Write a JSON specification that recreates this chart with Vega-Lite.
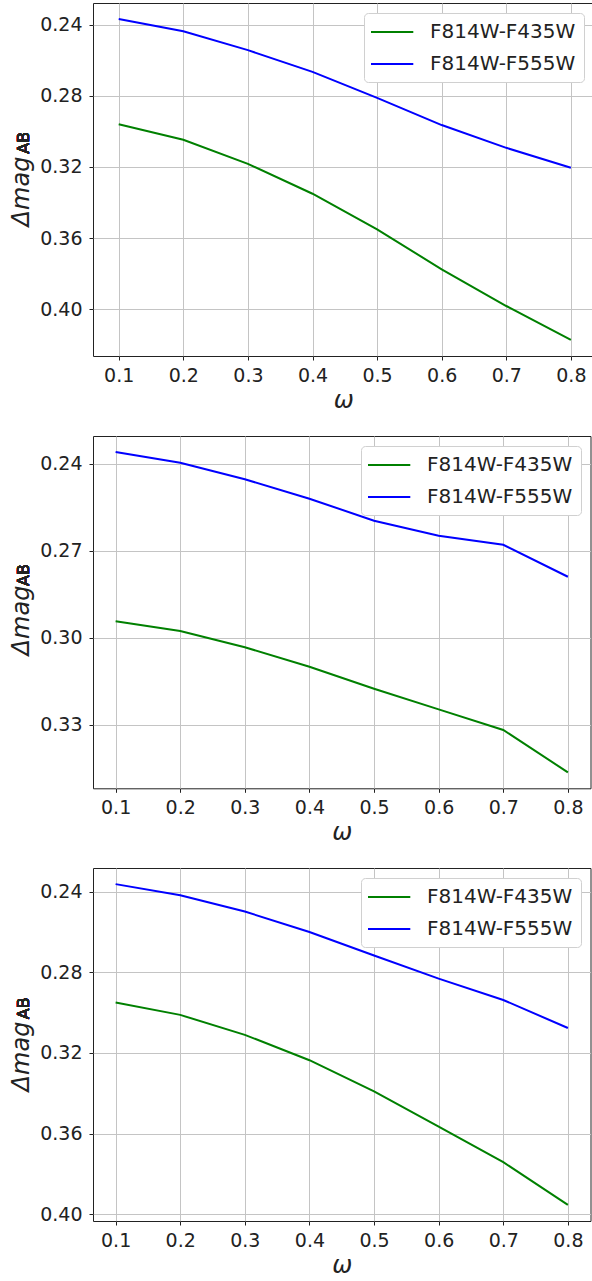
{
  "$schema": "https://vega.github.io/schema/vega-lite/v6.json",
  "padding": {"left": 9, "top": 2, "right": 0, "bottom": 0},
  "background": "white",
  "spacing": 22,
  "datasets": {
    "d1": [
      {"omega": 0.1, "series": "F814W-F435W", "mag": 0.2960},
      {"omega": 0.2, "series": "F814W-F435W", "mag": 0.3048},
      {"omega": 0.3, "series": "F814W-F435W", "mag": 0.3183},
      {"omega": 0.4, "series": "F814W-F435W", "mag": 0.3351},
      {"omega": 0.5, "series": "F814W-F435W", "mag": 0.3551},
      {"omega": 0.6, "series": "F814W-F435W", "mag": 0.3776},
      {"omega": 0.7, "series": "F814W-F435W", "mag": 0.3982},
      {"omega": 0.8, "series": "F814W-F435W", "mag": 0.4173},
      {"omega": 0.1, "series": "F814W-F555W", "mag": 0.2369},
      {"omega": 0.2, "series": "F814W-F555W", "mag": 0.2438},
      {"omega": 0.3, "series": "F814W-F555W", "mag": 0.2544},
      {"omega": 0.4, "series": "F814W-F555W", "mag": 0.2666},
      {"omega": 0.5, "series": "F814W-F555W", "mag": 0.2812},
      {"omega": 0.6, "series": "F814W-F555W", "mag": 0.2965},
      {"omega": 0.7, "series": "F814W-F555W", "mag": 0.3093},
      {"omega": 0.8, "series": "F814W-F555W", "mag": 0.3205}
    ],
    "d2": [
      {"omega": 0.1, "series": "F814W-F435W", "mag": 0.2943},
      {"omega": 0.2, "series": "F814W-F435W", "mag": 0.2977},
      {"omega": 0.3, "series": "F814W-F435W", "mag": 0.3033},
      {"omega": 0.4, "series": "F814W-F435W", "mag": 0.3100},
      {"omega": 0.5, "series": "F814W-F435W", "mag": 0.3176},
      {"omega": 0.6, "series": "F814W-F435W", "mag": 0.3247},
      {"omega": 0.7, "series": "F814W-F435W", "mag": 0.3318},
      {"omega": 0.8, "series": "F814W-F435W", "mag": 0.3464},
      {"omega": 0.1, "series": "F814W-F555W", "mag": 0.2360},
      {"omega": 0.2, "series": "F814W-F555W", "mag": 0.2397},
      {"omega": 0.3, "series": "F814W-F555W", "mag": 0.2454},
      {"omega": 0.4, "series": "F814W-F555W", "mag": 0.2521},
      {"omega": 0.5, "series": "F814W-F555W", "mag": 0.2597},
      {"omega": 0.6, "series": "F814W-F555W", "mag": 0.2649},
      {"omega": 0.7, "series": "F814W-F555W", "mag": 0.2680},
      {"omega": 0.8, "series": "F814W-F555W", "mag": 0.2790}
    ],
    "d3": [
      {"omega": 0.1, "series": "F814W-F435W", "mag": 0.2950},
      {"omega": 0.2, "series": "F814W-F435W", "mag": 0.3011},
      {"omega": 0.3, "series": "F814W-F435W", "mag": 0.3110},
      {"omega": 0.4, "series": "F814W-F435W", "mag": 0.3236},
      {"omega": 0.5, "series": "F814W-F435W", "mag": 0.3391},
      {"omega": 0.6, "series": "F814W-F435W", "mag": 0.3566},
      {"omega": 0.7, "series": "F814W-F435W", "mag": 0.3742},
      {"omega": 0.8, "series": "F814W-F435W", "mag": 0.3954},
      {"omega": 0.1, "series": "F814W-F555W", "mag": 0.2362},
      {"omega": 0.2, "series": "F814W-F555W", "mag": 0.2417},
      {"omega": 0.3, "series": "F814W-F555W", "mag": 0.2498},
      {"omega": 0.4, "series": "F814W-F555W", "mag": 0.2600},
      {"omega": 0.5, "series": "F814W-F555W", "mag": 0.2716},
      {"omega": 0.6, "series": "F814W-F555W", "mag": 0.2831},
      {"omega": 0.7, "series": "F814W-F555W", "mag": 0.2937},
      {"omega": 0.8, "series": "F814W-F555W", "mag": 0.3076}
    ]
  },
  "resolve": {"scale": {"color": "independent", "y": "independent", "x": "independent"}, "legend": {"color": "independent"}},
  "vconcat": [
    {
      "width": 500.5,
      "height": 353,
      "data": {"name": "d1"},
      "layer": [
        {
          "mark": {"type": "line", "strokeWidth": 2},
          "encoding": {
            "x": {"field": "omega", "type": "quantitative", "scale": {"domain": [0.0602, 0.835], "nice": false, "zero": false},
                  "axis": {"values": [0.1, 0.2, 0.3, 0.4, 0.5, 0.6, 0.7, 0.8], "format": ".1f", "title": "ω"}},
            "y": {"field": "mag", "type": "quantitative", "scale": {"domain": [0.2279, 0.4263], "reverse": true, "nice": false, "zero": false},
                  "axis": {"values": [0.24, 0.28, 0.32, 0.36, 0.40], "format": ".2f", "title": "Δmag", "titleY": 188}},
            "color": {"field": "series", "type": "nominal", "scale": {"domain": ["F814W-F435W", "F814W-F555W"], "range": ["#008000", "#0000ff"]},
                      "legend": {"title": null, "orient": "top-right", "offset": 10}}
          }
        },
        {
          "mark": {"type": "text", "text": "AB", "angle": 270, "fontSize": 16, "fontWeight": "normal", "fontStyle": "normal", "align": "center", "baseline": "middle", "clip": false},
          "encoding": {"x": {"datum": -0.0471, "type": "quantitative"}, "y": {"datum": 0.3065, "type": "quantitative"}}
        }
      ]
    },
    {
      "width": 497.5,
      "height": 352.3,
      "data": {"name": "d2"},
      "layer": [
        {
          "mark": {"type": "line", "strokeWidth": 2},
          "encoding": {
            "x": {"field": "omega", "type": "quantitative", "scale": {"domain": [0.065, 0.835], "nice": false, "zero": false},
                  "axis": {"values": [0.1, 0.2, 0.3, 0.4, 0.5, 0.6, 0.7, 0.8], "format": ".1f", "title": "ω"}},
            "y": {"field": "mag", "type": "quantitative", "scale": {"domain": [0.2305, 0.3519], "reverse": true, "nice": false, "zero": false},
                  "axis": {"values": [0.24, 0.27, 0.30, 0.33], "format": ".2f", "title": "Δmag", "titleY": 184}},
            "color": {"field": "series", "type": "nominal", "scale": {"domain": ["F814W-F435W", "F814W-F555W"], "range": ["#008000", "#0000ff"]},
                      "legend": {"title": null, "orient": "top-right", "offset": 10}}
          }
        },
        {
          "mark": {"type": "text", "text": "AB", "angle": 270, "fontSize": 16, "fontWeight": "normal", "fontStyle": "normal", "align": "center", "baseline": "middle", "clip": false},
          "encoding": {"x": {"datum": -0.0423, "type": "quantitative"}, "y": {"datum": 0.2784, "type": "quantitative"}}
        }
      ]
    },
    {
      "width": 497.5,
      "height": 353,
      "data": {"name": "d3"},
      "layer": [
        {
          "mark": {"type": "line", "strokeWidth": 2},
          "encoding": {
            "x": {"field": "omega", "type": "quantitative", "scale": {"domain": [0.065, 0.835], "nice": false, "zero": false},
                  "axis": {"values": [0.1, 0.2, 0.3, 0.4, 0.5, 0.6, 0.7, 0.8], "format": ".1f", "title": "ω"}},
            "y": {"field": "mag", "type": "quantitative", "scale": {"domain": [0.2282, 0.4034], "reverse": true, "nice": false, "zero": false},
                  "axis": {"values": [0.24, 0.28, 0.32, 0.36, 0.40], "format": ".2f", "title": "Δmag", "titleY": 188}},
            "color": {"field": "series", "type": "nominal", "scale": {"domain": ["F814W-F435W", "F814W-F555W"], "range": ["#008000", "#0000ff"]},
                      "legend": {"title": null, "orient": "top-right", "offset": 10}}
          }
        },
        {
          "mark": {"type": "text", "text": "AB", "angle": 270, "fontSize": 16, "fontWeight": "normal", "fontStyle": "normal", "align": "center", "baseline": "middle", "clip": false},
          "encoding": {"x": {"datum": -0.0423, "type": "quantitative"}, "y": {"datum": 0.2978, "type": "quantitative"}}
        }
      ]
    }
  ],
  "config": {
    "font": "DejaVu Sans",
    "view": {"stroke": "#222222", "strokeWidth": 1},
    "text": {"color": "#222222", "font": "DejaVu Sans"},
    "axis": {
      "domain": false,
      "labelFont": "DejaVu Sans",
      "labelFontSize": 19,
      "labelColor": "#222222",
      "tickColor": "#222222",
      "tickSize": 4,
      "tickWidth": 1,
      "labelPadding": 6,
      "grid": true,
      "gridColor": "#c4c4c4",
      "gridWidth": 1,
      "titleFont": "DejaVu Sans",
      "titleFontSize": 24,
      "titleFontStyle": "italic",
      "titleFontWeight": "normal",
      "titleColor": "#222222"
    },
    "axisX": {"titlePadding": 3},
    "axisY": {"titlePadding": 6, "labelPadding": 7},
    "legend": {
      "labelFont": "DejaVu Sans",
      "labelFontSize": 20,
      "labelColor": "#222222",
      "symbolType": "M-1.2,0H3.03",
      "symbolSize": 400,
      "symbolStrokeWidth": 2,
      "labelOffset": 36,
      "rowPadding": 11,
      "padding": 8,
      "fillColor": "white",
      "strokeColor": "#d0d0d0",
      "cornerRadius": 4
    }
  }
}
